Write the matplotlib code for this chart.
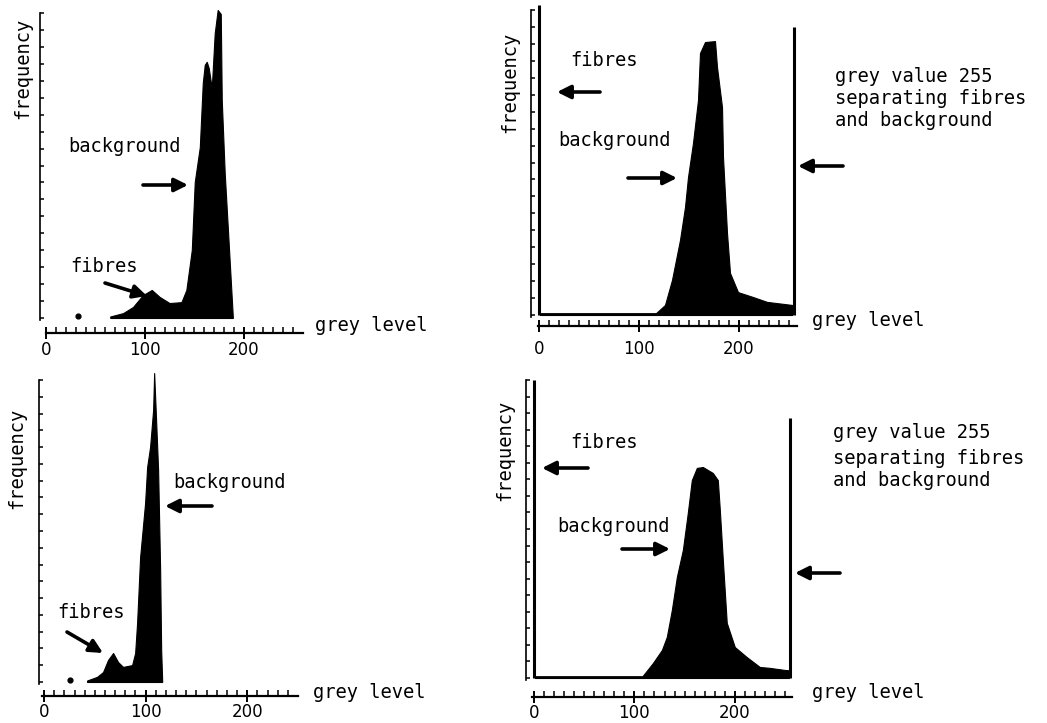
import numpy as np
import matplotlib
matplotlib.use("Agg")
import matplotlib.pyplot as plt

# ---------------- data (grey value, relative frequency) ----------------
# panel A: original image histogram (top left)
a_grey = [65, 78, 88, 98, 107, 115, 125, 137, 142, 147.5, 150.5, 155.6, 158.6, 160.6,
          162.6, 164.6, 167.7, 170.7, 173.7, 176.8, 177.8, 180.8, 184.8, 189]
a_freq = [0.5, 1.6, 3.6, 7.5, 9.2, 6.9, 4.9, 5.2, 9.2, 22.3, 44.6, 56, 77, 83,
          84, 82, 75.4, 93.4, 101, 99.7, 71.5, 47.5, 24.6, 0.3]
a_dot_grey = [32]
a_dot_freq = [0.6]

# panel B: thresholded image histogram (top right)
b_grey = [1, 60, 117, 118, 126, 133, 141, 146, 149, 154, 159, 161, 166, 176, 178, 183,
          184, 188, 191, 199, 214, 228, 253]
b_freq = [0.6, 0.6, 0.6, 0.9, 3.3, 11.5, 24.6, 35.4, 45.2, 56.4, 70.5, 85.9, 89.5, 89.8,
          81.3, 68.2, 51.8, 26.9, 13.8, 7.5, 5.9, 4.3, 3.3]
b_spike_grey = [0, 255]
b_spike_freq = [101.6, 94.4]

# panel C: original image histogram (bottom left)
c_grey = [42.4, 52.2, 58.1, 63, 68, 72.9, 77.8, 86.7, 89.7, 91.6, 94.6, 99.5, 101.5,
          104.4, 107.4, 108.4, 110.3, 112.3, 114.3, 115.3, 116.3]
c_freq = [0.5, 1.7, 3.3, 7.3, 9.6, 6.6, 5.0, 5.6, 9.6, 19.5, 41.4, 59.3, 71.2,
          77.8, 90.1, 102.3, 86.8, 70.2, 37, 10.6, 0.5]
c_dot_grey = [25.6]
c_dot_freq = [0.6]

# panel D: thresholded image histogram (bottom right)
d_grey = [1, 60, 108, 108.5, 118.4, 127.4, 132.3, 137.3, 142.3, 148.3, 153.2, 157.2, 162.2,
          168.2, 178.1, 183.1, 185.1, 188.1, 192, 200, 212, 224.9, 234.8, 249.8, 254]
d_freq = [0.6, 0.6, 0.6, 0.8, 5, 9.4, 13.8, 22.8, 33.9, 43, 55.4, 66.4, 70.5,
          70.8, 68.8, 66.4, 56.4, 39.6, 18.5, 10.4, 7, 3.7, 3.4, 2.7, 2.6]
d_spike_grey = [0, 255]
d_spike_freq = [100, 87.2]

x_tick_values = [0, 100, 200]
x_tick_labels = ["0", "100", "200"]

# ---------------- layout ----------------
W, H = 1047, 723
fig = plt.figure(figsize=(W / 100, H / 100), dpi=100)

MONO = ["DejaVu Sans Mono"]
TICKFONT = ["DejaVu Sans"]
TXT = 13.5


def fx(x):
    return x / W


def fy(y):
    return 1 - y / H


def make_axes(left, right, top, base, xlim, left_out, bottom_out, pad):
    ax = fig.add_axes([left / W, 1 - base / H, (right - left) / W, (base - top) / H])
    ax.set_xlim(*xlim)
    ax.set_ylim(0, 100)
    ax.patch.set_alpha(0)
    for s in ("top", "right"):
        ax.spines[s].set_visible(False)
    ax.spines["bottom"].set_position(("outward", bottom_out))
    ax.spines["left"].set_position(("outward", left_out))
    ax.spines["bottom"].set_linewidth(1.6)
    ax.spines["left"].set_linewidth(1.2)
    ax.spines["left"].set_bounds(-0.7, 100)
    ax.set_xticks(x_tick_values)
    ax.set_xticklabels(x_tick_labels, family=TICKFONT, fontsize=12)
    ax.set_xticks(np.arange(0, xlim[1], 10), minor=True)
    ax.tick_params(axis="x", which="major", direction="inout", length=9, width=1.4, pad=pad)
    ax.tick_params(axis="x", which="minor", direction="in", length=4, width=1.1)
    ax.set_yticks(np.linspace(0, 100, 19))
    ax.set_yticklabels([])
    ax.tick_params(axis="y", which="major", direction="in", length=3, width=1.1)
    return ax


def arrow(ax, tail, head):
    ax.annotate("", xy=(fx(head[0]), fy(head[1])), xycoords="figure fraction",
                xytext=(fx(tail[0]), fy(tail[1])), textcoords="figure fraction",
                arrowprops=dict(arrowstyle="-|>", lw=2.6, color="black",
                                mutation_scale=20, shrinkA=0, shrinkB=0),
                annotation_clip=False)


def label(x, y, s, **kw):
    fig.text(fx(x), fy(y), s, family=MONO, fontsize=TXT, ha="left", va="center", **kw)


def ylabel(x, y):
    fig.text(fx(x), fy(y), "frequency", family=MONO, fontsize=TXT, rotation=90,
             ha="center", va="center")


# ---- panel A ----
axA = make_axes(46, 303, 13, 318, (0, 260), 4, 11, 1)
axA.fill_between(a_grey, a_freq, 0, color="black", lw=0.8, clip_on=False)
axA.scatter(a_dot_grey, a_dot_freq, s=12, color="black", clip_on=False)
ylabel(23, 68)
label(68, 147, "background")
label(70, 267, "fibres")
label(315, 326, "grey level")
arrow(axA, (143, 185), (188, 185))
arrow(axA, (105, 283), (147, 296))

# ---- panel B ----
axB = make_axes(538, 797, 10, 315, (-1, 258), 5, 8, 5.4)
axB.fill_between(b_grey, b_freq, 0, color="black", lw=0.8, clip_on=False)
axB.vlines(b_spike_grey, 0, b_spike_freq, color="black", lw=2.2, clip_on=False)
ylabel(510, 82)
label(570, 60, "fibres")
label(558, 140, "background")
label(835, 77, "grey value 255")
label(835, 98, "separating fibres")
label(835, 120, "and background")
label(812, 321, "grey level")
arrow(axB, (600, 92), (557, 92))
arrow(axB, (628, 178), (677, 178))
arrow(axB, (843, 166), (798, 166))

# ---- panel C ----
axC = make_axes(42, 298, 380, 682, (-2, 250), 2, 10, 0.5)
axC.fill_between(c_grey, c_freq, 0, color="black", lw=0.8, clip_on=False)
axC.scatter(c_dot_grey, c_dot_freq, s=12, color="black", clip_on=False)
ylabel(17, 458)
label(173, 482, "background")
label(57, 612, "fibres")
label(313, 692, "grey level")
arrow(axC, (212, 506), (165, 506))
arrow(axC, (67, 632), (103, 653))

# ---- panel D ----
axD = make_axes(532, 792, 380, 678, (-2, 257), 4, 14, 0)
axD.fill_between(d_grey, d_freq, 0, color="black", lw=0.8, clip_on=False)
axD.vlines(d_spike_grey, 0, d_spike_freq, color="black", lw=2.2, clip_on=False)
ylabel(505, 450)
label(570, 442, "fibres")
label(557, 527, "background")
label(833, 433, "grey value 255")
label(833, 458, "separating fibres")
label(833, 480, "and background")
label(812, 692, "grey level")
arrow(axD, (588, 468), (542, 468))
arrow(axD, (622, 549), (670, 549))
arrow(axD, (840, 573), (795, 573))

fig.savefig("out.png", dpi=100)
